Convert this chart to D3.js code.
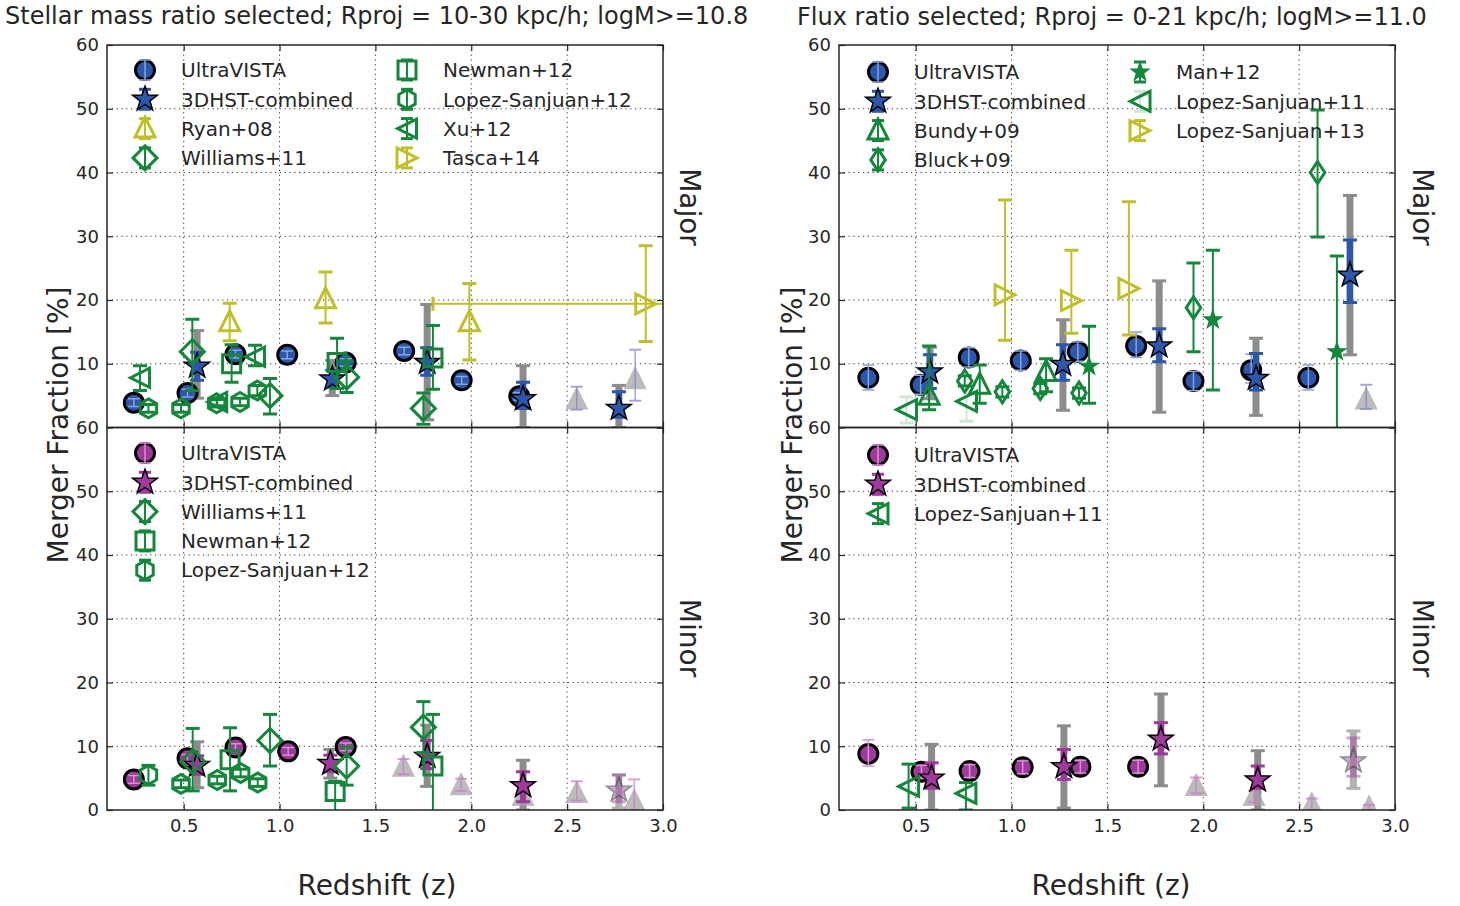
<!DOCTYPE html>
<html>
<head>
<meta charset="utf-8">
<script src="https://cdn.jsdelivr.net/npm/d3@7"></script>
<style>
  body { margin: 0; background: #fff; }
  svg text { font-family: "DejaVu Sans", sans-serif; fill: #262626; }
</style>
</head>
<body>
<svg id="chart" width="1460" height="906"></svg>
<script>
const zTicks = [0.5, 1.0, 1.5, 2.0, 2.5, 3.0];
const fTicks = [0, 10, 20, 30, 40, 50, 60];

// rows: [z, fraction %, err low, err high]   sys rows: [z, low, high]
// --- left: stellar mass ratio selected, major
const uvMajL = [[0.24, 3.9, 3.3, 4.5], [0.52, 5.4, 4.8, 6.0], [0.77, 11.5, 10.9, 12.1], [1.04, 11.4, 10.8, 12.0], [1.345, 10.2, 9.6, 10.8], [1.65, 12.0, 11.4, 12.6], [1.95, 7.4, 6.8, 8.0], [2.25, 4.9, 4.3, 5.5]];
const hstMajL = [[0.57, 9.6, 7.4, 11.8], [1.275, 7.6, 6.3, 9.0], [1.77, 10.2, 8.2, 12.5], [2.27, 4.5, 3.0, 7.1], [2.77, 3.0, 1.6, 5.6]];
const hstSysMajL = [[0.57, 4.6, 15.2], [1.275, 5.0, 10.5], [1.77, 1.2, 19.3], [2.27, 0, 9.7], [2.77, 0, 6.6]];
const extraMajL = [[2.55, 4.3, 2.8, 6.4], [2.855, 7.5, 4.2, 12.2]];
const ryan08 = [[0.74, 16.5, 13.6, 19.5], [1.24, 20.1, 16.4, 24.4], [1.99, 16.5, 10.6, 22.6]];
const tasca14 = [[2.91, 19.4, 13.5, 28.5, 1.8, 4.0]];
const williamsMajL = [[0.545, 11.9, 5.8, 17.0], [0.95, 5.0, 2.1, 7.7], [1.35, 7.9, 5.5, 10.4], [1.75, 3.0, 0.5, 5.4]];
const newmanMajL = [[0.75, 10.0, 7.1, 13.0], [1.30, 10.2, 6.1, 14.0], [1.80, 10.9, 6.0, 16.0]];
const lopez12MajL = [[0.316, 3.0, 2.4, 3.6], [0.486, 3.0, 2.4, 3.6], [0.672, 3.8, 3.2, 4.4], [0.794, 4.0, 3.4, 4.6], [0.884, 5.8, 5.0, 6.6]];
const xu12 = [[0.272, 7.8, 5.8, 9.7], [0.675, 4.0, 3.4, 4.6], [0.872, 11.1, 9.7, 12.9]];

// --- left: stellar mass ratio selected, minor
const uvMinL = [[0.24, 4.8, 4.2, 5.4], [0.52, 8.1, 7.5, 8.7], [0.77, 9.8, 9.2, 10.4], [1.045, 9.2, 8.6, 9.8], [1.345, 9.9, 9.3, 10.5]];
const hstMinL = [[0.57, 7.0, 5.6, 8.5], [1.265, 7.3, 6.0, 8.6], [1.77, 8.4, 6.5, 10.9], [2.27, 3.8, 1.3, 6.0]];
const hstSysMinL = [[0.57, 3.5, 10.7], [1.265, 5.0, 9.5], [1.77, 3.7, 13.3], [2.27, 0, 7.8]];
const hstFaintMinL = [[2.77, 3.1, 1.3, 5.5]];
const hstFaintSysMinL = [[2.77, 0.3, 5.5]];
const extraMinL = [[1.646, 6.7, 5.6, 8.0], [1.947, 3.8, 3.0, 4.9], [2.27, 2.1, 1.2, 3.0], [2.55, 2.6, 1.5, 4.5], [2.85, 1.3, 0, 4.8]];
const williamsMinL = [[0.547, 7.6, 3.0, 12.8], [0.95, 10.9, 6.9, 15.0], [1.35, 6.9, 3.9, 9.9], [1.75, 13.0, 9.0, 17.0]];
const newmanMinL = [[0.742, 7.9, 3.0, 12.9], [1.29, 2.9, -3.0, 4.5], [1.80, 6.9, -5.0, 15.0]];
const lopez12MinL = [[0.316, 5.5, 3.9, 7.0], [0.486, 4.1, 3.5, 4.7], [0.675, 4.7, 4.1, 5.3], [0.797, 5.8, 5.2, 6.4], [0.886, 4.3, 3.7, 4.9]];

// --- right: flux ratio selected, major
const uvMajR = [[0.253, 7.8, 5.9, 9.8], [0.526, 6.7, 5.2, 8.2], [0.777, 11.0, 9.5, 12.5], [1.048, 10.5, 9.0, 12.0], [1.346, 11.9, 10.4, 13.4], [1.65, 12.8, 11.0, 15.0], [1.949, 7.3, 5.8, 8.8], [2.25, 9.0, 7.0, 11.5], [2.548, 7.8, 5.9, 9.8]];
const hstMajR = [[0.574, 8.7, 6.1, 11.4], [1.268, 9.9, 7.4, 13.0], [1.77, 12.8, 10.3, 15.5], [2.275, 7.7, 5.9, 11.6], [2.765, 23.9, 19.6, 29.4]];
const hstSysMajR = [[0.574, 4.5, 12.6], [1.268, 2.7, 16.9], [1.77, 2.4, 23.0], [2.275, 1.9, 14.0], [2.765, 11.4, 36.4]];
const extraMajR = [[2.85, 4.3, 2.9, 6.7]];
const bundy09 = [[0.57, 5.0, 2.8, 12.8], [0.834, 6.7, 3.8, 9.8], [1.18, 8.7, 5.6, 10.8]];
const bluck09 = [[0.756, 7.3, 6.5, 8.1], [0.952, 5.6, 4.8, 6.4], [1.15, 6.1, 5.3, 6.9], [1.352, 5.4, 4.6, 6.2], [1.949, 18.8, 11.9, 25.8], [2.596, 40.0, 29.9, 49.8]];
const man12 = [[1.404, 9.6, 3.8, 15.9], [2.05, 16.9, 5.9, 27.8], [2.697, 11.9, -5.0, 26.9]];
const lopez11MajR = [[0.452, 2.8, 0.7, 4.8], [0.765, 4.1, 1.0, 6.5]];
const lopez13 = [[0.966, 20.8, 13.7, 35.7], [1.312, 19.9, 14.8, 27.8], [1.612, 21.8, 14.5, 35.4]];

// --- right: flux ratio selected, minor
const uvMinR = [[0.253, 8.8, 6.9, 11.0], [0.53, 6.0, 5.0, 7.0], [0.781, 6.1, 5.1, 7.1], [1.058, 6.7, 5.7, 7.7], [1.359, 6.8, 5.8, 7.8], [1.66, 6.8, 5.8, 7.8]];
const hstMinR = [[0.583, 5.0, 3.4, 7.4], [1.273, 6.8, 4.8, 9.5], [1.779, 11.1, 8.8, 13.7], [2.284, 4.7, 3.4, 6.9]];
const hstSysMinR = [[0.583, 0, 10.3], [1.273, 0.3, 13.2], [1.779, 3.8, 18.2], [2.284, 0, 9.3]];
const hstFaintMinR = [[2.783, 7.7, 5.3, 11.3]];
const hstFaintSysMinR = [[2.783, 3.4, 12.4]];
const extraMinR = [[1.963, 3.7, 2.6, 5.1], [2.265, 2.1, 1.2, 3.0], [2.566, 0.8, 0, 1.8], [2.865, 0.3, 0, 0.8]];
const lopez11MinR = [[0.463, 3.7, 0.3, 7.2], [0.762, 2.6, 0, 4.3]];

const BLUE = "#2b57ad", PURPLE = "#a0399c", GREEN = "#13873a", YELLOW = "#bfbf26", GREY = "#808080";

const svg = d3.select("#chart");
const yTop = 45, yMid = 427.5, yBot = 810;

function shapePath(t, r) {
  if (t === "o") return `M${-r},0A${r},${r} 0 1,0 ${r},0A${r},${r} 0 1,0 ${-r},0Z`;
  let pts;
  if (t === "D") pts = [[0, -r], [r, 0], [0, r], [-r, 0]];
  if (t === "d") pts = [[0, -r], [0.66 * r, 0], [0, r], [-0.66 * r, 0]];
  if (t === "s") pts = [[-r, -r], [r, -r], [r, r], [-r, r]];
  if (t === "^") pts = [[0, -1.15 * r], [r, 0.85 * r], [-r, 0.85 * r]];
  if (t === "<") pts = [[-r, 0], [r, -r], [r, r]];
  if (t === ">") pts = [[r, 0], [-r, -r], [-r, r]];
  if (t === "h") pts = d3.range(6).map(i => [r * Math.cos(Math.PI / 3 * i - Math.PI / 2), r * Math.sin(Math.PI / 3 * i - Math.PI / 2)]);
  if (t === "*") pts = d3.range(10).map(i => {
    const rr = i % 2 ? r * 0.4 : r, a = Math.PI / 5 * i - Math.PI / 2;
    return [rr * Math.cos(a), rr * Math.sin(a)];
  });
  return "M" + pts.map(p => p.join(",")).join("L") + "Z";
}

// styles
const errThin = c => ({ color: c, w: 2, cap: 7, cw: 3 });
const st = {
  uvB: { shape: "o", r: 9.5, fill: BLUE, stroke: "#000", sw: 3, err: { color: "#8aa3dc", w: 1.5, cap: 6, cw: 1.5 }, errOnTop: true },
  uvP: { shape: "o", r: 9.5, fill: PURPLE, stroke: "#000", sw: 3, err: { color: "#d592d2", w: 1.5, cap: 6, cw: 1.5 }, errOnTop: true },
  hstB: { shape: "*", r: 13, fill: BLUE, stroke: "#000", sw: 1.5, err: { color: BLUE, w: 6, cap: 7, cw: 3 } },
  hstP: { shape: "*", r: 13, fill: PURPLE, stroke: "#000", sw: 1.5, err: { color: PURPLE, w: 6, cap: 7, cw: 3 } },
  extraB: { shape: "^", r: 10, fill: "#a6a6a6", stroke: "#a6a6a6", sw: 2, op: 0.75, err: { color: "#8080d0", w: 1.5, cap: 6, cw: 2, op: 0.7 }, errOnTop: true },
  extraP: { shape: "^", r: 10, fill: "#a6a6a6", stroke: "#a6a6a6", sw: 2, op: 0.75, err: { color: "#cc77c9", w: 1.5, cap: 6, cw: 2, op: 0.7 }, errOnTop: true },
  ryan: { shape: "^", r: 10, fill: "none", stroke: YELLOW, sw: 3, err: errThin(YELLOW) },
  tasca: { shape: ">", r: 10, fill: "none", stroke: YELLOW, sw: 3, err: errThin(YELLOW) },
  lopez13: { shape: ">", r: 10, fill: "none", stroke: YELLOW, sw: 3, err: errThin(YELLOW) },
  williams: { shape: "D", r: 12, fill: "none", stroke: GREEN, sw: 3, err: errThin(GREEN) },
  newman: { shape: "s", r: 9, fill: "none", stroke: GREEN, sw: 3, err: errThin(GREEN) },
  lopez12: { shape: "h", r: 9.5, fill: "none", stroke: GREEN, sw: 3, err: errThin(GREEN) },
  xu: { shape: "<", r: 9.5, fill: "none", stroke: GREEN, sw: 3, err: errThin(GREEN) },
  bundy: { shape: "^", r: 10, fill: "none", stroke: GREEN, sw: 3, err: errThin(GREEN) },
  bluck: { shape: "d", r: 11, fill: "none", stroke: GREEN, sw: 3, err: errThin(GREEN) },
  man: { shape: "*", r: 9, fill: GREEN, stroke: GREEN, sw: 1.5, err: errThin(GREEN) },
  lopez11: { shape: "<", r: 10, fill: "none", stroke: GREEN, sw: 3, err: { color: GREEN, w: 2, cap: 7, cw: 3, op: 0.2 } },
  lopez11b: { shape: "<", r: 10, fill: "none", stroke: GREEN, sw: 3, err: errThin(GREEN) }
};
const sysSt = { color: GREY, w: 7, cap: 7, cw: 3, op: 0.9 };

function drawErr(g, x, y, rows, e) {
  const grp = g.append("g").attr("stroke", e.color).attr("opacity", e.op || 1);
  grp.selectAll(null).data(rows).join("line")
    .attr("x1", d => x(d[0])).attr("x2", d => x(d[0]))
    .attr("y1", d => y(d[1])).attr("y2", d => y(d[2]))
    .attr("stroke-width", e.w);
  grp.selectAll(null).data(rows.flatMap(d => [[d[0], d[1]], [d[0], d[2]]])).join("line")
    .attr("x1", d => x(d[0]) - e.cap).attr("x2", d => x(d[0]) + e.cap)
    .attr("y1", d => y(d[1])).attr("y2", d => y(d[1]))
    .attr("stroke-width", e.cw);
}

function drawSeries(g, x, y, rows, s, op) {
  const grp = g.append("g").attr("opacity", op || 1);
  const errRows = rows.map(d => [d[0], d[2], d[3]]);
  if (!s.errOnTop) drawErr(grp, x, y, errRows, s.err);
  // horizontal error (Tasca)
  grp.selectAll(null).data(rows.filter(d => d.length > 4)).join("line")
    .attr("x1", d => x(d[4])).attr("x2", d => x(d[5]))
    .attr("y1", d => y(d[1])).attr("y2", d => y(d[1]))
    .attr("stroke", s.err.color).attr("stroke-width", s.err.w);
  grp.selectAll(null).data(rows.filter(d => d.length > 4)).join("line")
    .attr("x1", d => x(d[4])).attr("x2", d => x(d[4]))
    .attr("y1", d => y(d[1]) - 7).attr("y2", d => y(d[1]) + 7)
    .attr("stroke", s.err.color).attr("stroke-width", 3);
  grp.selectAll(null).data(rows).join("path")
    .attr("transform", d => `translate(${x(d[0])},${y(d[1])})`)
    .attr("d", shapePath(s.shape, s.r))
    .attr("fill", s.fill).attr("stroke", s.stroke).attr("stroke-width", s.sw)
    .attr("stroke-linejoin", "miter").attr("opacity", s.op || 1);
  if (s.errOnTop) drawErr(grp, x, y, errRows, s.err);
}

function legend(g, lx, ly, entries) {
  entries.forEach(([label, s], i) => {
    const cy = ly + i * 29.3;
    const lg = g.append("g").attr("transform", `translate(${lx},${cy})`);
    const e = s.err;
    const drawE = () => {
      const eg = lg.append("g").attr("stroke", e.color).attr("opacity", e.op || 1);
      eg.append("line").attr("y1", -10).attr("y2", 10).attr("stroke-width", e.w);
      eg.append("line").attr("x1", -6).attr("x2", 6).attr("y1", -10).attr("y2", -10).attr("stroke-width", e.cw);
      eg.append("line").attr("x1", -6).attr("x2", 6).attr("y1", 10).attr("y2", 10).attr("stroke-width", e.cw);
    };
    if (!s.errOnTop) drawE();
    lg.append("path").attr("d", shapePath(s.shape, s.r))
      .attr("fill", s.fill).attr("stroke", s.stroke).attr("stroke-width", s.sw);
    if (s.errOnTop) drawE();
    g.append("text").attr("x", lx + 36).attr("y", cy).attr("dy", "0.36em")
      .attr("font-size", 20).text(label);
  });
}

function makePanel(x0, x1, row, id) {
  const x = d3.scaleLinear().domain([0.1, 3.0]).range([x0, x1]);
  const y = d3.scaleLinear().domain([0, 60]).range(row === 0 ? [yMid, yTop] : [yBot, yMid]);
  const g = svg.append("g");
  const [yb, yt] = y.range();

  g.append("clipPath").attr("id", id).append("rect")
    .attr("x", x0).attr("y", yt).attr("width", x1 - x0).attr("height", yb - yt);

  // dotted grid
  g.append("g").selectAll("line").data([10, 20, 30, 40, 50]).join("line")
    .attr("x1", x0).attr("x2", x1).attr("y1", d => y(d)).attr("y2", d => y(d))
    .attr("stroke", "#333").attr("stroke-width", 1).attr("stroke-dasharray", "1.2,3.6");
  g.append("g").selectAll("line").data(zTicks.slice(0, 5)).join("line")
    .attr("x1", d => x(d)).attr("x2", d => x(d)).attr("y1", yt).attr("y2", yb)
    .attr("stroke", "#333").attr("stroke-width", 1).attr("stroke-dasharray", "1.2,3.6");

  const axL = g.append("g").attr("transform", `translate(${x0},0)`)
    .call(d3.axisLeft(y).tickValues(row === 0 ? fTicks.slice(1) : fTicks).tickSize(-6).tickPadding(8).tickSizeOuter(0));
  const axR = g.append("g").attr("transform", `translate(${x1},0)`)
    .call(d3.axisRight(y).tickValues(fTicks).tickSize(-6).tickFormat("").tickSizeOuter(0));
  const axT = g.append("g").attr("transform", `translate(0,${yt})`)
    .call(d3.axisTop(x).tickValues(zTicks).tickSize(-6).tickFormat("").tickSizeOuter(0));
  const axB = g.append("g").attr("transform", `translate(0,${yb})`)
    .call(d3.axisBottom(x).tickValues(zTicks).tickSize(-6).tickPadding(9).tickSizeOuter(0)
      .tickFormat(row === 1 ? d3.format(".1f") : ""));
  [axL, axR, axT, axB].forEach(a => {
    a.select(".domain").remove();
    a.selectAll(".tick line").attr("stroke", "#262626").attr("stroke-width", 1.2);
    a.selectAll("text").attr("font-size", 18).attr("fill", "#262626")
      .style("font-family", "'DejaVu Sans', sans-serif");
  });

  const plot = g.append("g").attr("clip-path", `url(#${id})`);
  const frame = g.append("rect").attr("x", x0).attr("y", yt).attr("width", x1 - x0).attr("height", yb - yt)
    .attr("fill", "none").attr("stroke", "#262626").attr("stroke-width", 1.5);
  return { x, y, g, plot };
}

// ---------- left figure ----------
const LT = makePanel(107, 663, 0, "clipLT");
drawErr(LT.plot, LT.x, LT.y, hstSysMajL, sysSt);
drawSeries(LT.plot, LT.x, LT.y, extraMajL, st.extraB);
drawSeries(LT.plot, LT.x, LT.y, uvMajL, st.uvB);
drawSeries(LT.plot, LT.x, LT.y, hstMajL, st.hstB);
drawSeries(LT.plot, LT.x, LT.y, ryan08, st.ryan);
drawSeries(LT.plot, LT.x, LT.y, tasca14, st.tasca);
drawSeries(LT.plot, LT.x, LT.y, lopez12MajL, st.lopez12);
drawSeries(LT.plot, LT.x, LT.y, xu12, st.xu);
drawSeries(LT.plot, LT.x, LT.y, newmanMajL, st.newman);
drawSeries(LT.plot, LT.x, LT.y, williamsMajL, st.williams);
legend(LT.g, 145, 70, [["UltraVISTA", st.uvB], ["3DHST-combined", st.hstB], ["Ryan+08", st.ryan], ["Williams+11", st.williams]]);
legend(LT.g, 407, 70, [["Newman+12", st.newman], ["Lopez-Sanjuan+12", st.lopez12], ["Xu+12", st.xu], ["Tasca+14", st.tasca]]);

const LB = makePanel(107, 663, 1, "clipLB");
drawErr(LB.plot, LB.x, LB.y, hstSysMinL, sysSt);
drawErr(LB.plot, LB.x, LB.y, hstFaintSysMinL, Object.assign({}, sysSt, { op: 0.6 }));
drawSeries(LB.plot, LB.x, LB.y, extraMinL, st.extraP);
drawSeries(LB.plot, LB.x, LB.y, hstFaintMinL, st.hstP, 0.45);
drawSeries(LB.plot, LB.x, LB.y, uvMinL, st.uvP);
drawSeries(LB.plot, LB.x, LB.y, hstMinL, st.hstP);
drawSeries(LB.plot, LB.x, LB.y, lopez12MinL, st.lopez12);
drawSeries(LB.plot, LB.x, LB.y, newmanMinL, st.newman);
drawSeries(LB.plot, LB.x, LB.y, williamsMinL, st.williams);
legend(LB.g, 145, 453, [["UltraVISTA", st.uvP], ["3DHST-combined", st.hstP], ["Williams+11", st.williams], ["Newman+12", st.newman], ["Lopez-Sanjuan+12", st.lopez12]]);

// ---------- right figure ----------
const RT = makePanel(839, 1395, 0, "clipRT");
drawErr(RT.plot, RT.x, RT.y, hstSysMajR, sysSt);
drawSeries(RT.plot, RT.x, RT.y, extraMajR, st.extraB);
drawSeries(RT.plot, RT.x, RT.y, uvMajR, st.uvB);
drawSeries(RT.plot, RT.x, RT.y, hstMajR, st.hstB);
drawSeries(RT.plot, RT.x, RT.y, lopez13, st.lopez13);
drawSeries(RT.plot, RT.x, RT.y, lopez11MajR, st.lopez11);
drawSeries(RT.plot, RT.x, RT.y, bundy09, st.bundy);
drawSeries(RT.plot, RT.x, RT.y, bluck09, st.bluck);
drawSeries(RT.plot, RT.x, RT.y, man12, st.man);
legend(RT.g, 878, 72, [["UltraVISTA", st.uvB], ["3DHST-combined", st.hstB], ["Bundy+09", st.bundy], ["Bluck+09", st.bluck]]);
legend(RT.g, 1140, 72, [["Man+12", st.man], ["Lopez-Sanjuan+11", st.lopez11], ["Lopez-Sanjuan+13", st.lopez13]]);

const RB = makePanel(839, 1395, 1, "clipRB");
drawErr(RB.plot, RB.x, RB.y, hstSysMinR, sysSt);
drawErr(RB.plot, RB.x, RB.y, hstFaintSysMinR, Object.assign({}, sysSt, { op: 0.6 }));
drawSeries(RB.plot, RB.x, RB.y, extraMinR, st.extraP);
drawSeries(RB.plot, RB.x, RB.y, hstFaintMinR, st.hstP, 0.45);
drawSeries(RB.plot, RB.x, RB.y, uvMinR, st.uvP);
drawSeries(RB.plot, RB.x, RB.y, hstMinR, st.hstP);
drawSeries(RB.plot, RB.x, RB.y, lopez11MinR, st.lopez11b);
legend(RB.g, 878, 455, [["UltraVISTA", st.uvP], ["3DHST-combined", st.hstP], ["Lopez-Sanjuan+11", st.lopez11b]]);

// ---------- labels ----------
svg.append("text").attr("x", 5).attr("y", 24).attr("font-size", 24)
  .text("Stellar mass ratio selected; Rproj = 10-30 kpc/h; logM>=10.8");
svg.append("text").attr("x", 797).attr("y", 25).attr("font-size", 24)
  .text("Flux ratio selected; Rproj = 0-21 kpc/h; logM>=11.0");

[[58, 377, 690], [792, 1111, 1423]].forEach(([yl, xl, side]) => {
  svg.append("text").attr("transform", `translate(${yl},425) rotate(-90)`)
    .attr("text-anchor", "middle").attr("dy", "0.36em").attr("font-size", 28).text("Merger Fraction [%]");
  svg.append("text").attr("x", xl).attr("y", 885).attr("dy", "0.36em")
    .attr("text-anchor", "middle").attr("font-size", 28).text("Redshift (z)");
  svg.append("text").attr("transform", `translate(${side},207) rotate(90)`)
    .attr("text-anchor", "middle").attr("dy", "0.36em").attr("font-size", 28).text("Major");
  svg.append("text").attr("transform", `translate(${side},638) rotate(90)`)
    .attr("text-anchor", "middle").attr("dy", "0.36em").attr("font-size", 28).text("Minor");
});
</script>
</body>
</html>
